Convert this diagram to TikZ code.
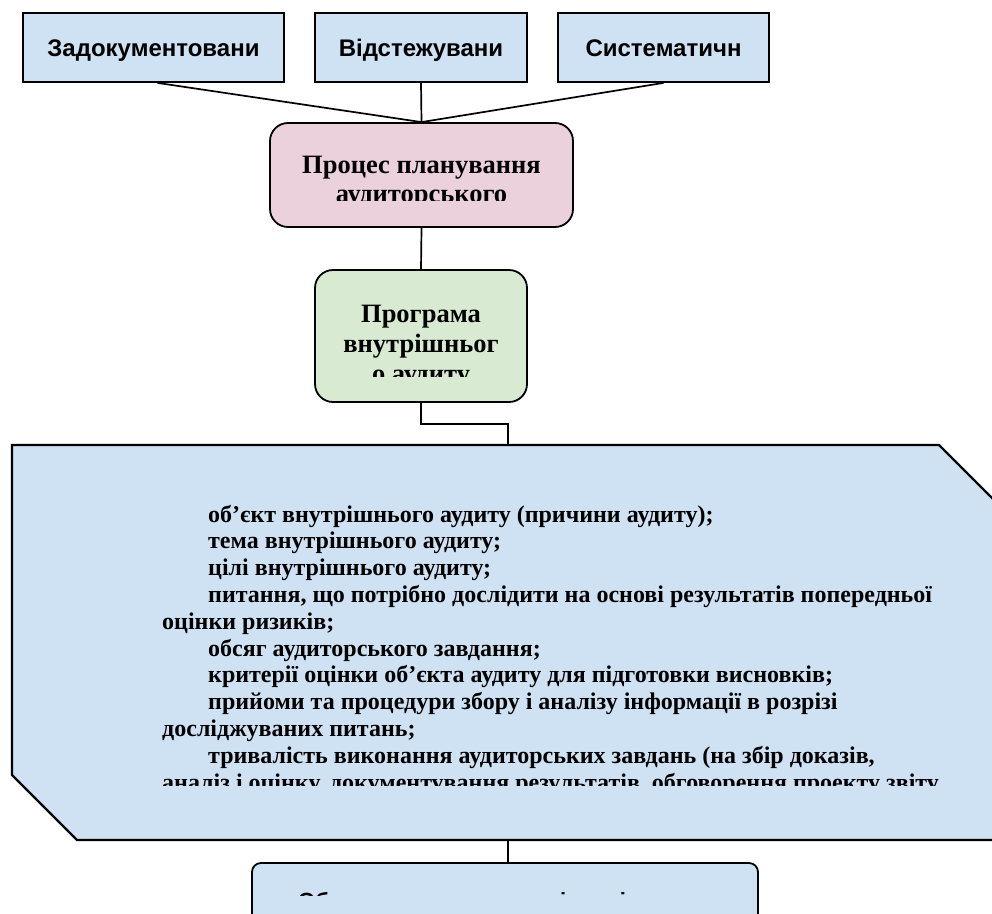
\documentclass[tikz,border=0pt]{standalone}
\usepackage{fontspec}
\setmainfont{Liberation Serif}
\newfontfamily\arialfont{Liberation Sans}
\usetikzlibrary{positioning}
\definecolor{Sky}{HTML}{CFE2F3}
\definecolor{Rose}{HTML}{EAD1DC}
\definecolor{Mint}{HTML}{D9EAD3}

\begin{document}
\begin{tikzpicture}[x=1pt,y=-1pt,
    crit/.style={draw=black,line width=1.8pt,fill=Sky,minimum height=69pt,
      text height=17pt,text depth=0pt,
      font=\arialfont\bfseries\fontsize{24}{28}\selectfont},
    stage/.style={draw=black,line width=1.8pt,rounded corners=18pt},
    boxtxt/.style={inner sep=0pt,anchor=base,font=\bfseries\fontsize{26.5}{30}\selectfont},
    listtxt/.style={inner sep=0pt,anchor=base west,font=\bfseries\fontsize{24}{27}\selectfont},
    link/.style={line width=1.7pt}
  ]
  \useasboundingbox (0,0) rectangle (992,913);

  % criteria
  \node[crit,minimum width=261pt] (doc) at (153.5,47.5) {Задокументовани};
  \node[crit,minimum width=212pt] (trace) at (421,47.5) {Відстежувани};
  \node[crit,minimum width=211pt] (syst) at (663.5,47.5) {Систематичн};

  % planning
  \node[stage,fill=Rose,minimum width=303pt,minimum height=104pt] (plan) at (421.5,175) {};
  \begin{scope}
    \clip (270,123) rectangle (573,200);
    \node[boxtxt] (planA) at (421.5,173) {Процес планування};
    \node[boxtxt] (planB) at (421.5,202) {аудиторського};
  \end{scope}

  % programme
  \node[stage,fill=Mint,minimum width=212pt,minimum height=132pt] (prog) at (421,336) {};
  \begin{scope}
    \clip (315,270) rectangle (527,376);
    \node[boxtxt] (progA) at (421,322) {Програма};
    \node[boxtxt] (progB) at (421,352) {внутрішньог};
    \node[boxtxt] (progC) at (421,382) {о аудиту};
  \end{scope}

  % contents of the programme
  \coordinate (listtop) at (508,445);
  \coordinate (listbot) at (508,840);
  \filldraw[fill=Sky,draw=black,line width=2.4pt]
    (12,445) -- (939,445) -- (1004,510) -- (1004,840) -- (77,840) -- (12,775) -- cycle;
  \begin{scope}
    \clip (12,445) rectangle (1004,785);
    \foreach \dx/\txt [count=\k] in {
        46/{об’єкт внутрішнього аудиту (причини аудиту);},
        46/{тема внутрішнього аудиту;},
        46/{цілі внутрішнього аудиту;},
        46/{питання, що потрібно дослідити на основі результатів попередньої},
        0/{оцінки ризиків;},
        46/{обсяг аудиторського завдання;},
        46/{критерії оцінки об’єкта аудиту для підготовки висновків;},
        46/{прийоми та процедури збору і аналізу інформації в розрізі},
        0/{досліджуваних питань;},
        46/{тривалість виконання аудиторських завдань (на збір доказів,},
        0/{аналіз і оцінку, документування результатів, обговорення проекту звіту}}
      \node[listtxt] (item\k) at ({162+\dx},{522+26.8*(\k-1)}) {\txt};
  \end{scope}

  % discussion
  \node[stage,rounded corners=9pt,fill=Sky,minimum width=506pt,minimum height=70pt] (talk) at (505,898) {};
  \begin{scope}
    \clip (252,863) rectangle (758,895);
    \node[inner sep=0pt,anchor=base west,font=\arialfont\bfseries\fontsize{22}{26}\selectfont]
      (talkA) at (298,908) {Обговорення програми із керівником};
  \end{scope}

  % links
  \draw[link] (doc.south) ++(4,0) -- (plan.north);
  \draw[link] (trace.south) -- (plan.north);
  \draw[link] (syst.south) -- (plan.north);
  \draw[link] (plan.south) -- (prog.north);
  \draw[link] (prog.south) -- ++(0,21) -| (listtop);
  \draw[link] (listbot) -- (listbot |- talk.north);
\end{tikzpicture}
\end{document}
